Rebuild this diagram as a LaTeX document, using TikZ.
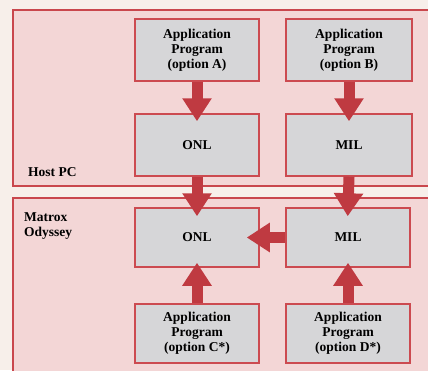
\documentclass[tikz,border=0pt]{standalone}
\usepackage{fontspec}
\setmainfont{Liberation Serif}
\usetikzlibrary{arrows.meta}
\definecolor{bgcol}{HTML}{F7EFEA}
\definecolor{regfill}{HTML}{F3D6D6}
\definecolor{regline}{HTML}{C9474D}
\definecolor{boxfill}{HTML}{D6D6D8}
\definecolor{boxline}{HTML}{CC4A50}
\definecolor{arrcol}{HTML}{BF3A41}
\tikzset{
  region/.style={draw=regline, fill=regfill, line width=1.8pt},
  boxnode/.style={draw=boxline, fill=boxfill, line width=1.5pt, inner sep=0pt,
    align=center, font=\fontsize{13.5}{15}\selectfont\bfseries},
  lbl/.style={inner sep=0pt, align=left, font=\fontsize{13.5}{15}\selectfont\bfseries},
  bigarrow/.style={draw=arrcol, line width=11pt,
    -{Triangle[width=28pt,length=23pt]}}
}
\begin{document}
\begin{tikzpicture}[x=1pt,y=-1pt]
\useasboundingbox (0,0) rectangle (428,370);
\fill[bgcol] (0,0) rectangle (428,370);
\begin{scope}
\clip (0,0) rectangle (428,370);
\draw[region] (13,10) rectangle (440,186);
\draw[region] (13,198) rectangle (440,380);
\end{scope}
\node[lbl, anchor=west] (host) at (28,172) {Host PC};
\node[lbl, anchor=west] (odys) at (24,226) {Matrox\\Odyssey};
% boxes
\node[boxnode, minimum width=124pt, minimum height=62pt] (appA) at (197,50) {Application\\Program\\(option A)};
\node[boxnode, minimum width=126pt, minimum height=62pt] (appB) at (349,50) {Application\\Program\\(option B)};
\node[boxnode, minimum width=124pt, minimum height=62pt] (onlA) at (197,145) {ONL};
\node[boxnode, minimum width=126pt, minimum height=62pt] (milA) at (349,145) {MIL};
\node[boxnode, minimum width=124pt, minimum height=59pt] (onlB) at (197,237.5) {ONL};
\node[boxnode, minimum width=124pt, minimum height=59pt] (milB) at (348,237.5) {MIL};
\node[boxnode, minimum width=124pt, minimum height=59pt] (appC) at (197,333.5) {Application\\Program\\(option C*)};
\node[boxnode, minimum width=124pt, minimum height=59pt] (appD) at (348,333.5) {Application\\Program\\(option D*)};
% arrows
\draw[bigarrow, shorten >=-8pt] (appA.south) -- (onlA.north);
\draw[bigarrow, shorten >=-8pt] (appB.south) -- (milA.north);
\draw[bigarrow, shorten >=-9pt] (onlA.south) -- (onlB.north);
\draw[bigarrow, shorten >=-9pt] ([xshift=0pt]milA.south) -- (milB.north);
\draw[bigarrow, shorten >=-13pt] (milB.west) -- (onlB.east);
\draw[bigarrow, shorten >=-5pt] (appC.north) -- (onlB.south);
\draw[bigarrow, shorten >=-5pt] (appD.north) -- (milB.south);
\end{tikzpicture}
\end{document}
